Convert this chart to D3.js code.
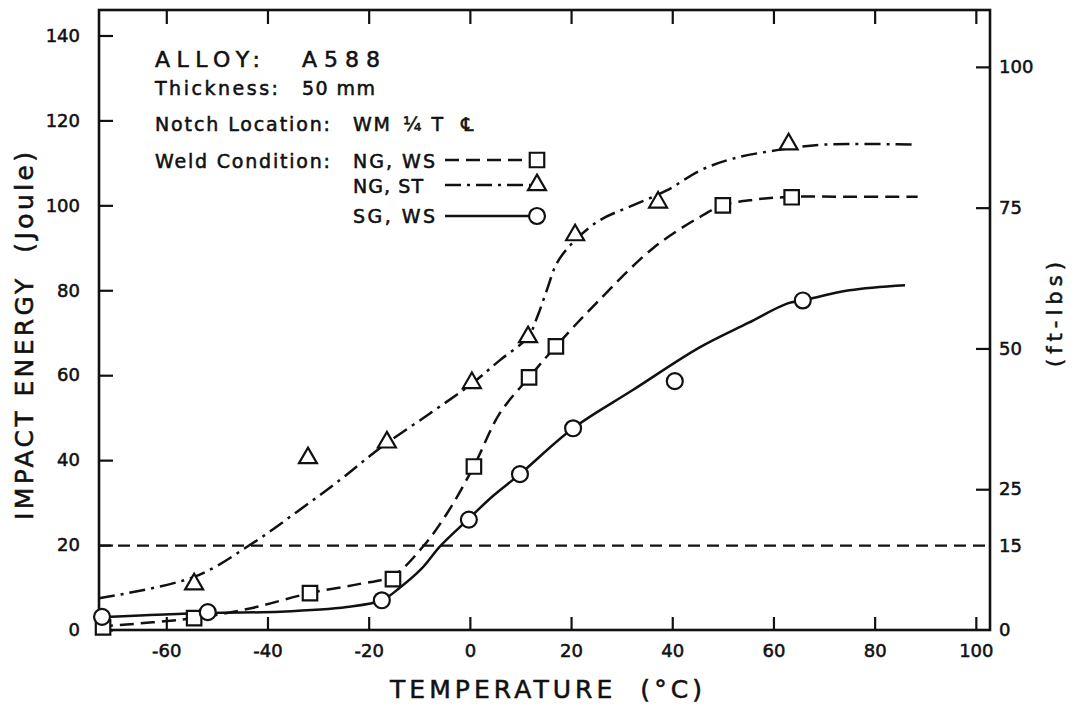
<!DOCTYPE html>
<html>
<head>
<meta charset="utf-8">
<script src="https://cdn.jsdelivr.net/npm/d3@7"></script>
<style>
  html, body { margin: 0; padding: 0; background: #fff; }
  svg { display: block; }
  text { font-family: "DejaVu Sans", "Liberation Sans", sans-serif; fill: #111; stroke: #111; stroke-width: 0.55; white-space: pre; }
</style>
</head>
<body>
<svg id="chart" width="1076" height="708"></svg>
<script>
// Charpy impact energy vs. test temperature, A588 weld metal
const xTicks = [-60, -40, -20, 0, 20, 40, 60, 80, 100];
const yTicks = [0, 20, 40, 60, 80, 100, 120, 140];
const ftTicks = [0, 15, 25, 50, 75, 100];
const thresholdFtLb = 15;

// Measured points (temperature °C, energy J)
const ngwsTemp   = [-72.5, -54.5, -31.6, -15.2, 0.8, 11.7, 17, 50, 63.6];
const ngwsEnergy = [0.6, 2.8, 8.7, 12, 38.5, 59.5, 66.8, 100, 101.9];
const ngstTemp   = [-54.5, -32, -16.4, 0.4, 11.5, 20.8, 37.2, 63];
const ngstEnergy = [10.8, 40.5, 44.2, 58.2, 69, 93, 100.7, 114.4];
const sgwsTemp   = [-72.7, -51.8, -17.4, -0.2, 9.9, 20.4, 40.5, 65.8];
const sgwsEnergy = [3.1, 4.2, 7, 26, 36.7, 47.5, 58.6, 77.6];

// Hand-faired transition curves
const ngwsCurveTemp   = [-73.3, -54.5, -43, -31.6, -22, -15.2, -9.3, -4.5, 0.8, 5.9, 11.7, 17, 25, 36.2, 45.5, 50, 56, 63.6, 75, 88.5];
const ngwsCurveEnergy = [0.8, 2.8, 5.2, 8.7, 10.8, 12.8, 19.6, 27.5, 38.6, 51, 59.5, 66.8, 77, 89.9, 97.3, 100, 101.3, 102, 102, 102];
const ngstCurveTemp   = [-73.3, -54.5, -43.5, -34.2, -25.7, -17.8, -7.9, 0.4, 5.9, 11.5, 13.4, 15.2, 17.2, 20.4, 25.7, 32.2, 38.9, 45.5, 52, 60.7, 70, 87.7];
const ngstCurveEnergy = [7.5, 12.5, 20, 27.8, 35.3, 42.8, 51, 58, 63.5, 69, 74, 80, 86.4, 91.3, 96.5, 100, 103.5, 108.2, 111, 113, 114.3, 114.3];
const sgwsCurveTemp   = [-73.3, -51.8, -37.5, -24.3, -17.4, -13.8, -9.5, -5.9, -0.4, 4.5, 9.9, 20.4, 32.2, 45.5, 55, 62.8, 65.8, 75, 86];
const sgwsCurveEnergy = [3, 4, 4.3, 5.4, 7, 10, 14.5, 19.7, 26, 31.5, 36.7, 47.5, 56.5, 66.6, 72.3, 76.9, 77.6, 80, 81.2];

const svg = d3.select("#chart");
svg.append("rect").attr("width", 1076).attr("height", 708).attr("fill", "#fff");

const L = 99, R = 990, T = 10, B = 630;
const x = d3.scaleLinear().domain([-73.3, 102.8]).range([L, R]);
const y = d3.scaleLinear().domain([0, 146]).range([B, T]);
const yFt = d3.scaleLinear().domain([0, 110.1]).range([B, T]);

const ink = "#111";
const plain = d => String(d);   // hyphen-minus, as lettered on the sheet

function styleAxis(g, size) {
  g.select(".domain").remove();
  g.selectAll(".tick line").attr("stroke", ink).attr("stroke-width", 2.2);
  g.selectAll(".tick text")
    .attr("font-family", "DejaVu Sans, sans-serif")
    .attr("font-size", size).attr("fill", ink);
}

// bottom axis, ticks pointing inward
svg.append("g").attr("transform", `translate(0,${B})`)
  .call(d3.axisBottom(x).tickValues(xTicks).tickFormat(plain).tickSizeInner(-13).tickSizeOuter(0).tickPadding(14))
  .call(g => styleAxis(g, 18));
// top ticks
svg.append("g").attr("transform", `translate(0,${T})`)
  .call(d3.axisTop(x).tickValues(xTicks).tickSizeInner(-14).tickSizeOuter(0).tickFormat(""))
  .call(g => styleAxis(g, 18));
// left axis (Joule)
svg.append("g").attr("transform", `translate(${L},0)`)
  .call(d3.axisLeft(y).tickValues(yTicks).tickFormat(plain).tickSizeInner(-14).tickSizeOuter(0).tickPadding(19))
  .call(g => styleAxis(g, 18));
// right axis (ft-lbs)
svg.append("g").attr("transform", `translate(${R},0)`)
  .call(d3.axisRight(yFt).tickValues(ftTicks).tickFormat(plain).tickSizeInner(-14).tickSizeOuter(0).tickPadding(9))
  .call(g => styleAxis(g, 18))
  .call(g => g.selectAll(".tick").filter(d => d === 15 || d === 0).select("line").remove());

// frame
svg.append("rect").attr("x", L).attr("y", T).attr("width", R - L).attr("height", B - T)
  .attr("fill", "none").attr("stroke", ink).attr("stroke-width", 2.6);

// 15 ft-lb requirement line
svg.append("line")
  .attr("x1", L).attr("x2", R).attr("y1", yFt(thresholdFtLb)).attr("y2", yFt(thresholdFtLb))
  .attr("stroke", ink).attr("stroke-width", 2.2).attr("stroke-dasharray", "12,7");

const line = d3.line().x(d => x(d[0])).y(d => y(d[1])).curve(d3.curveCatmullRom.alpha(0.5));
const zip = (a, b) => a.map((v, i) => [v, b[i]]);

const series = [
  { name: "NG, WS", ct: ngwsCurveTemp, ce: ngwsCurveEnergy, pt: ngwsTemp, pe: ngwsEnergy, dash: "14,7", sym: d3.symbolSquare, size: 210 },
  { name: "NG, ST", ct: ngstCurveTemp, ce: ngstCurveEnergy, pt: ngstTemp, pe: ngstEnergy, dash: "16,6,3,6", sym: d3.symbolTriangle, size: 140 },
  { name: "SG, WS", ct: sgwsCurveTemp, ce: sgwsCurveEnergy, pt: sgwsTemp, pe: sgwsEnergy, dash: null, sym: d3.symbolCircle, size: 200 }
];

series.forEach(s => {
  svg.append("path").datum(zip(s.ct, s.ce)).attr("d", line)
    .attr("fill", "none").attr("stroke", ink).attr("stroke-width", 2.5)
    .attr("stroke-dasharray", s.dash);
});
series.forEach(s => {
  svg.append("g").selectAll("path").data(zip(s.pt, s.pe)).join("path")
    .attr("transform", d => `translate(${x(d[0])},${y(d[1])})`)
    .attr("d", d3.symbol(s.sym, s.size))
    .attr("fill", "#fff").attr("stroke", ink).attr("stroke-width", 2.2);
});

// header block and legend
function label(txt, px, py, size, len) {
  const t = svg.append("text").attr("x", px).attr("y", py).attr("font-size", size).text(txt);
  if (len) t.attr("textLength", len).attr("lengthAdjust", "spacing");
  return t;
}
label("ALLOY:", 155, 67, 22, 105);
label("A588", 302, 67, 22, 78);
label("Thickness:", 155, 95, 19, 123);
label("50 mm", 302, 95, 19, 73);
label("Notch Location:", 155, 131, 19, 175);
label("WM", 353, 131, 19, 37);
label("¼T", 403, 131, 19, 40);
label("℄", 461, 131, 19);
label("Weld Condition:", 155, 168, 19, 175);

const legendRows = [160, 185, 216];
series.forEach((s, i) => {
  const ly = legendRows[i];
  label(s.name, 353, [168, 193, 223][i], 19, [82, 70, 82][i]);
  svg.append("line").attr("x1", 445).attr("x2", 530).attr("y1", ly).attr("y2", ly)
    .attr("stroke", ink).attr("stroke-width", 2.4).attr("stroke-dasharray", s.dash);
  svg.append("path").attr("transform", `translate(537,${ly})`)
    .attr("d", d3.symbol(s.sym, s.size))
    .attr("fill", "#fff").attr("stroke", ink).attr("stroke-width", 2.2);
});

// axis titles
svg.append("text").attr("x", 390).attr("y", 698).attr("font-size", 25)
  .attr("textLength", 312).attr("lengthAdjust", "spacing").text("TEMPERATURE  (°C)");
svg.append("text").attr("transform", "translate(33,520) rotate(-90)").attr("font-size", 25)
  .attr("textLength", 368).attr("lengthAdjust", "spacing").text("IMPACT ENERGY  (Joule)");
svg.append("text").attr("transform", "translate(1062,367) rotate(-90)").attr("font-size", 21)
  .attr("textLength", 105).attr("lengthAdjust", "spacing").text("(ft-lbs)");
</script>
</body>
</html>
